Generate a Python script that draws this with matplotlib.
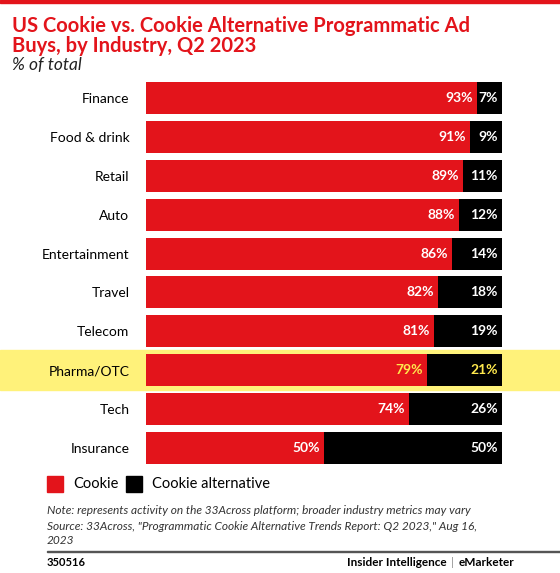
import matplotlib.pyplot as plt
from matplotlib.patches import Rectangle

industries = ["Finance","Food & drink","Retail","Auto","Entertainment","Travel","Telecom","Pharma/OTC","Tech","Insurance"]
cookie = [93,91,89,88,86,82,81,79,74,50]
alternative = [7,9,11,12,14,18,19,21,26,50]

W,H = 560,573
fig = plt.figure(figsize=(W/100,H/100), dpi=100)
plt.rcParams['font.family'] = ['Lato','DejaVu Sans']
RED = '#E3141B'
def fx(x): return x/W
def fy(y): return 1-y/H

fig.add_artist(Rectangle((0,fy(3)),1,3/H,color=RED,transform=fig.transFigure))
fig.add_artist(Rectangle((0,fy(390)),1,40/H,color='#FFF27A',transform=fig.transFigure,zorder=0))

fig.text(fx(12),fy(26),"US Cookie vs. Cookie Alternative Programmatic Ad",color=RED,fontsize=14.5,fontweight='bold',va='center')
fig.text(fx(12),fy(46),"Buys, by Industry, Q2 2023",color=RED,fontsize=14.5,fontweight='bold',va='center')
fig.text(fx(12),fy(65),"% of total",fontsize=12.5,style='italic',va='center',color='#222')

ax = fig.add_axes([fx(146),fy(467),fx(502)-fx(146),(467-79)/H])
ax.patch.set_alpha(0)
y = list(range(len(industries)))
ax.barh(y,cookie,height=0.82,color=RED)
ax.barh(y,alternative,left=cookie,height=0.82,color='black')
for i,(c,a) in enumerate(zip(cookie,alternative)):
    tc = '#FFE94D' if industries[i]=="Pharma/OTC" else 'white'
    ax.text(c-1.2,i,f"{c}%",ha='right',va='center',color=tc,fontsize=10,fontweight='bold')
    ax.text(98.8,i,f"{a}%",ha='right',va='center',color=tc,fontsize=10,fontweight='bold')
ax.set_xlim(0,100)
ax.set_ylim(len(industries)-0.5,-0.5)
ax.set_yticks(y)
ax.set_yticklabels(industries,fontsize=10)
ax.tick_params(axis='y',length=0,pad=12)
ax.set_xticks([])
for s in ax.spines.values(): s.set_visible(False)

fig.add_artist(Rectangle((fx(47),fy(492)),16/W,16/H,color=RED,transform=fig.transFigure))
fig.text(fx(73),fy(484),"Cookie",fontsize=10.5,va='center')
fig.add_artist(Rectangle((fx(126),fy(492)),16/W,16/H,color='black',transform=fig.transFigure))
fig.text(fx(152),fy(484),"Cookie alternative",fontsize=10.5,va='center')

fig.text(fx(47),fy(511),"Note: represents activity on the 33Across platform; broader industry metrics may vary",fontsize=8.6,style='italic',va='center',color='#333')
fig.text(fx(47),fy(526),"Source: 33Across, \"Programmatic Cookie Alternative Trends Report: Q2 2023,\" Aug 16,",fontsize=8.6,style='italic',va='center',color='#333')
fig.text(fx(47),fy(541),"2023",fontsize=8.6,style='italic',va='center',color='#333')
fig.add_artist(Rectangle((fx(47),fy(552)),(W-47)/W,1/H,color='#555',transform=fig.transFigure))
fig.text(fx(47),fy(562),"350516",fontsize=8,va='center',fontweight='bold')
fig.text(fx(447),fy(562),"Insider Intelligence",fontsize=8.5,va='center',ha='right',fontweight='bold')
fig.text(fx(453),fy(562),"|",fontsize=8.5,va='center',ha='center',color='#999')
fig.text(fx(459),fy(562),"eMarketer",fontsize=8.5,va='center',fontweight='bold')
fig.savefig('out.png',dpi=100)
